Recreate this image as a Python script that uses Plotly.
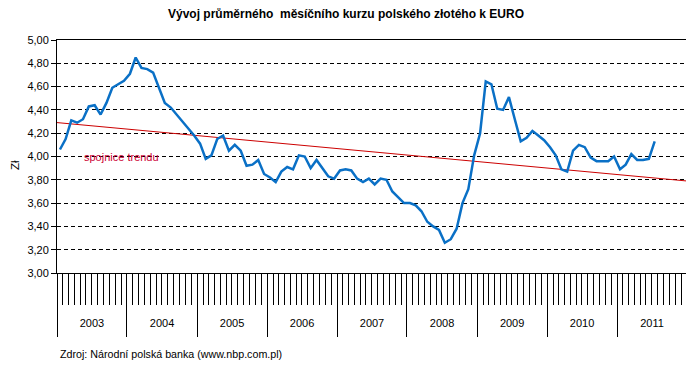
import numpy as np
import pandas as pd
import plotly.graph_objects as go

# ---- data (monthly average PLN per EUR) ----
years = [2003, 2004, 2005, 2006, 2007, 2008, 2009, 2010, 2011]
rate_2003 = [4.06, 4.15, 4.31, 4.29, 4.32, 4.43, 4.44, 4.36, 4.46, 4.59, 4.62, 4.65]
rate_2004 = [4.71, 4.85, 4.76, 4.75, 4.72, 4.59, 4.46, 4.42, 4.36, 4.31, 4.25, 4.18]
rate_2005 = [4.11, 3.98, 4.01, 4.15, 4.18, 4.05, 4.10, 4.05, 3.92, 3.93, 3.97, 3.85]
rate_2006 = [3.82, 3.78, 3.87, 3.91, 3.89, 4.01, 4.00, 3.90, 3.97, 3.90, 3.83, 3.81]
rate_2007 = [3.88, 3.89, 3.88, 3.81, 3.78, 3.81, 3.76, 3.81, 3.80, 3.70, 3.65, 3.60]
rate_2008 = [3.60, 3.58, 3.53, 3.44, 3.40, 3.37, 3.26, 3.29, 3.38, 3.60, 3.72, 4.01]
rate_2009 = [4.20, 4.645, 4.62, 4.41, 4.40, 4.51, 4.32, 4.13, 4.16, 4.22, 4.18, 4.14]
rate_2010 = [4.08, 4.01, 3.89, 3.87, 4.05, 4.10, 4.08, 3.99, 3.96, 3.96, 3.96, 4.00]
rate_2011 = [3.89, 3.93, 4.02, 3.97, 3.97, 3.98, 4.13]
y_ticks = [3.0, 3.2, 3.4, 3.6, 3.8, 4.0, 4.2, 4.4, 4.6, 4.8, 5.0]

title_text = "Vývoj průměrného  měsíčního kurzu polského złotého k EURO"
trend_label = "spojnice trendu"
source_text = "Zdroj: Národní polská banka (www.nbp.com.pl)"
y_title = "Zł"

values = (rate_2003 + rate_2004 + rate_2005 + rate_2006 + rate_2007
          + rate_2008 + rate_2009 + rate_2010 + rate_2011)
n = len(values)

# month mid-points as x positions
month_starts = pd.date_range(f"{years[0]}-01-01", periods=n + 1, freq="MS")
mids = month_starts[:-1] + (month_starts[1:] - month_starts[:-1]) / 2

# linear trend over month index, extended across the whole axis
idx = np.arange(n)
slope, intercept = np.polyfit(idx, values, 1)
axis_start = f"{years[0]}-01-01"
axis_end = f"{years[-1] + 1}-01-01"
n_axis = 12 * len(years)
trend_x = [axis_start, axis_end]
trend_y = [intercept + slope * (-0.5), intercept + slope * (n_axis - 0.5)]

fig = go.Figure()
fig.add_trace(go.Scatter(x=trend_x, y=trend_y, mode="lines",
                         line=dict(color="#CC0000", width=1), hoverinfo="skip"))
fig.add_trace(go.Scatter(x=mids, y=values, mode="lines",
                         line=dict(color="#0A70C6", width=2.5)))

font_main = "Liberation Sans, Arial, sans-serif"

# the page body has an 8px default margin, so the figure is drawn 8px smaller
W, H, OFF = 686, 361, 8
fig.update_layout(
    width=W, height=H,
    margin=dict(l=57 - OFF, r=7, t=40 - OFF, b=96),
    paper_bgcolor="white", plot_bgcolor="white",
    showlegend=False,
    separators=", ",
    font=dict(family=font_main, size=11, color="black"),
    title=dict(text=f"<b>{title_text}</b>", x=(346 - OFF) / W, xanchor="center",
               y=1 - (14 - OFF) / H, yanchor="middle", automargin=False,
               font=dict(family="Liberation Sans Narrow, Arial Narrow, Liberation Sans, Arial",
                         size=12, color="black")),
)

fig.update_yaxes(
    range=[y_ticks[0], y_ticks[-1]], tickvals=y_ticks, tickformat=".2f",
    automargin=False,
    showgrid=True, gridcolor="black", gridwidth=1, griddash="4px,3px",
    showline=True, linecolor="black", linewidth=1, mirror=True,
    ticks="outside", ticklen=5, tickcolor="black",
    tickfont=dict(size=11), zeroline=False,
)

fig.update_xaxes(
    type="date", range=[axis_start, axis_end], automargin=False,
    showgrid=False, zeroline=False,
    showline=True, linecolor="black", linewidth=1, mirror=True,
    tick0=axis_start, dtick="M12", ticks="outside", ticklen=63, tickcolor="black",
    ticklabelmode="period", tickformat="%Y", ticklabelstandoff=-23,
    tickfont=dict(size=11),
    minor=dict(dtick="M1", ticks="outside", ticklen=31, tickcolor="black", showgrid=False),
)

fig.add_annotation(text=y_title, textangle=-90, xref="paper", yref="paper",
                   x=(15 - 57) / 630, xanchor="center", y=(273 - 165) / 233,
                   yanchor="middle", showarrow=False, borderpad=0,
                   font=dict(size=11.5, color="black"))
fig.add_annotation(text=trend_label, xref="paper", yref="paper",
                   x=(121 - 57) / 630, xanchor="center", y=(273 - 157) / 233,
                   yanchor="middle", showarrow=False,
                   font=dict(size=11, color="#CC0033"))
fig.add_annotation(text=source_text, xref="paper", yref="paper",
                   x=(58 - 57) / 630, xanchor="left", y=(273 - 354) / 233,
                   yanchor="middle", showarrow=False,
                   font=dict(size=10.7, color="black"))

fig.write_html("out.html")
